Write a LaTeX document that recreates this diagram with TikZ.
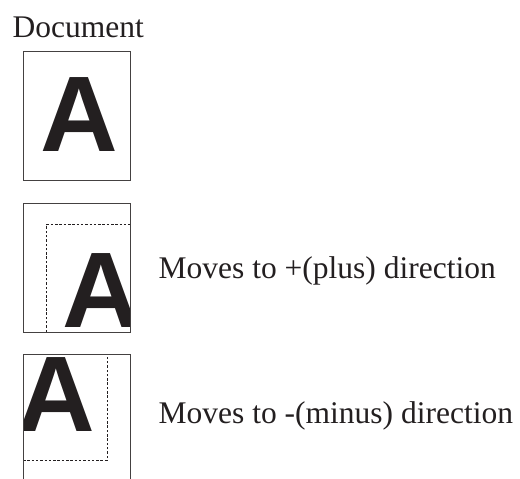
\documentclass[tikz,border=0pt]{standalone}
\usepackage{fontspec}
\setmainfont{Liberation Serif}
\newfontfamily\glyphfont{Liberation Sans}
\definecolor{ink}{HTML}{231F20}
\begin{document}
\begin{tikzpicture}[x=1pt,y=-1pt,
  label/.style={inner sep=0pt,anchor=base west,text=ink,font=\fontsize{31.5}{36}\selectfont},
  bigA/.style={inner sep=0pt,anchor=base west,text=ink,font=\glyphfont\bfseries\fontsize{107.5}{110}\selectfont},
  page/.style={draw=ink!85,line width=1pt},
  shifted/.style={draw=ink,line width=0.9pt,dash pattern=on 2.5pt off 1.8pt}]
\useasboundingbox (0,0) rectangle (520,479);
% title
\node[label] (title) at (12.5,37) {Document};
% original page
\node[bigA] (a1) at (40,151) {A};
\draw[page] (23.5,51.5) rectangle (130,180);
% plus direction
\begin{scope}
  \clip (23.5,203.5) rectangle (130,332);
  \node[bigA] (a2) at (62,327) {A};
  \draw[shifted] (46.5,332) -- (46.5,224.5) -- (131,224.5);
\end{scope}
\draw[page] (23.5,203.5) rectangle (130,332);
\node[label] (plus) at (158.5,278) {Moves to +(plus) direction};
% minus direction
\begin{scope}
  \clip (23.5,354.5) rectangle (130,490);
  \node[bigA] (a3) at (17,431) {A};
  \draw[shifted] (23,460) -- (107,460) -- (107,354);
\end{scope}
\draw[page] (23.5,354.5) rectangle (130,483);
\node[label] (minus) at (158.5,423) {Moves to -(minus) direction};
\end{tikzpicture}
\end{document}
